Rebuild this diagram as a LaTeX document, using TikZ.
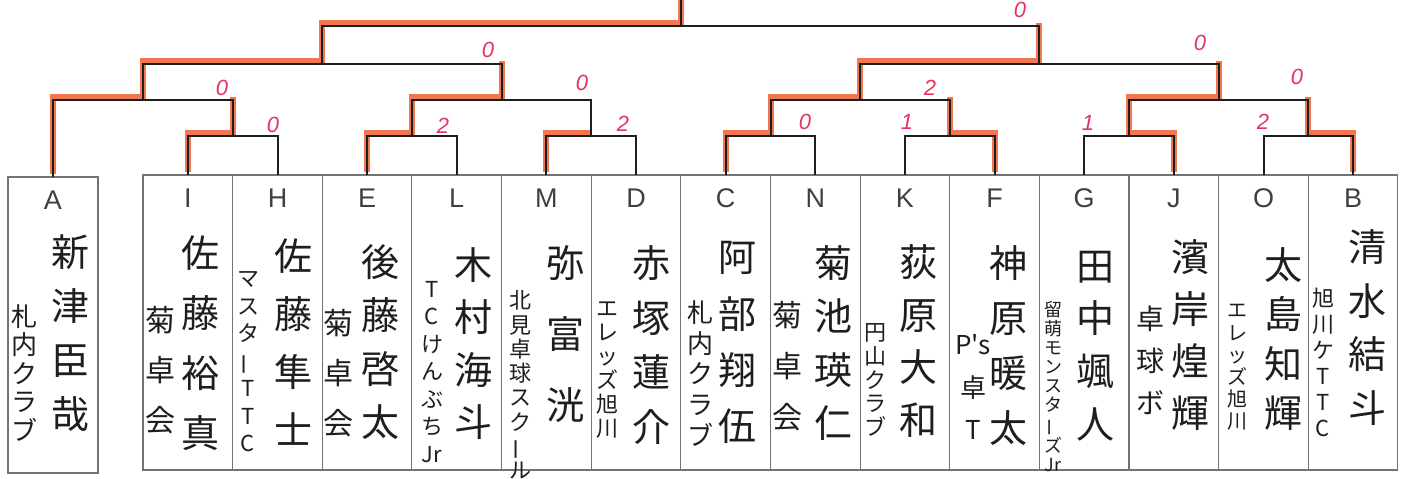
\documentclass[tikz,border=0pt]{standalone}
\usepackage{fontspec}
\newfontfamily\jp{Noto Sans CJK JP}
\newfontfamily\lat{Liberation Sans}
\definecolor{winred}{RGB}{238,96,50}
\definecolor{score}{RGB}{228,52,95}
\definecolor{boxline}{RGB}{115,115,115}
\definecolor{ink}{RGB}{30,30,30}
\newcommand\vbar{\rotatebox[origin=c]{90}{ー}}
\begin{document}
\begin{tikzpicture}[x=1pt,y=-1pt,
  box/.style={draw=boxline, line width=1.1pt, minimum width=89.64pt, minimum height=295pt, inner sep=0pt, outer sep=0pt},
  br/.style={draw=ink, line width=2pt},
  winpath/.style={draw=winred, line width=6pt, opacity=0.85, transform canvas={yshift=3pt}},
  letter/.style={font=\lat\fontsize{27}{27}\selectfont, text=ink!85, inner sep=0pt},
  namecol/.style={align=center, inner sep=0pt, text=ink, font=\jp\fontsize{38}{#1}\selectfont},
  clubcol/.style 2 args={align=center, inner sep=0pt, text=ink, font=\jp\fontsize{#1}{#2}\selectfont},
  sc/.style={text=score, font=\lat\itshape\fontsize{22}{22}\selectfont, inner sep=0pt},
]
\fill[white] (0,0) rectangle (1406,479);
\useasboundingbox (0,0) rectangle (1406,479);

% boxes
\node[box, minimum width=90pt, minimum height=296pt] (bA) at (53,325) {};
\node[box] (bI) at (187.8,322.5) {};
\node[box] (bH) at (277.5,322.5) {};
\node[box] (bE) at (367.1,322.5) {};
\node[box] (bL) at (456.7,322.5) {};
\node[box] (bM) at (546.4,322.5) {};
\node[box] (bD) at (636.0,322.5) {};
\node[box] (bC) at (725.7,322.5) {};
\node[box] (bN) at (815.3,322.5) {};
\node[box] (bK) at (904.9,322.5) {};
\node[box] (bF) at (994.6,322.5) {};
\node[box] (bG) at (1084.2,322.5) {};
\node[box] (bJ) at (1173.9,322.5) {};
\node[box] (bO) at (1263.5,322.5) {};
\node[box] (bB) at (1353.1,322.5) {};

% letters
\node[letter] (lA) at (53,200) {A};
\node[letter] (lI) at (187.8,198) {I};
\node[letter] (lH) at (277.5,198) {H};
\node[letter] (lE) at (367.1,198) {E};
\node[letter] (lL) at (456.7,198) {L};
\node[letter] (lM) at (546.4,198) {M};
\node[letter] (lD) at (636.0,198) {D};
\node[letter] (lC) at (725.7,198) {C};
\node[letter] (lN) at (815.3,198) {N};
\node[letter] (lK) at (904.9,198) {K};
\node[letter] (lF) at (994.6,198) {F};
\node[letter] (lG) at (1084.2,198) {G};
\node[letter] (lJ) at (1173.9,198) {J};
\node[letter] (lO) at (1263.5,198) {O};
\node[letter] (lB) at (1353.1,198) {B};

% names and clubs
\node[namecol=54] (nA) at (70,333) {新\\津\\臣\\哉};
\node[clubcol={26}{28.5}] (cA) at (25,373) {札\\内\\ク\\ラ\\ブ};
\node[namecol=60] (nI) at (200,343) {佐\\藤\\裕\\真};
\node[clubcol={30}{50}] (cI) at (160,370) {菊\\卓\\会};
\node[namecol=58] (nH) at (293,342) {佐\\藤\\隼\\士};
\node[clubcol={22}{27.5}] (cH) at (248,362) {マ\\ス\\タ\\\vbar\\T\\T\\C};
\node[namecol=53.3] (nE) at (380,342) {後\\藤\\啓\\太};
\node[clubcol={30}{50}] (cE) at (338,373) {菊\\卓\\会};
\node[namecol=52.3] (nL) at (473,343.5) {木\\村\\海\\斗};
\node[clubcol={22}{27.5}] (cL) at (432,372) {T\\C\\け\\ん\\ぶ\\ち\\Jr};
\node[namecol=71] (nM) at (565,334) {弥\\富\\洸};
\node[clubcol={22}{24.3}] (cM) at (520,385) {北\\見\\卓\\球\\ス\\ク\\\vbar\\ル};
\node[namecol=54.7] (nD) at (651,345) {赤\\塚\\蓮\\介};
\node[clubcol={22}{24}] (cD) at (607,370) {エ\\レ\\ッ\\ズ\\旭\\川};
\node[namecol=56.3] (nC) at (737,342.5) {阿\\部\\翔\\伍};
\node[clubcol={26}{30.75}] (cC) at (700,373.5) {札\\内\\ク\\ラ\\ブ};
\node[namecol=53.3] (nN) at (833,343) {菊\\池\\瑛\\仁};
\node[clubcol={30}{51}] (cN) at (787,366) {菊\\卓\\会};
\node[namecol=52.7] (nK) at (918,341) {荻\\原\\大\\和};
\node[clubcol={22}{23.75}] (cK) at (875,380) {円\\山\\ク\\ラ\\ブ};
\node[namecol=55] (nF) at (1008,345.5) {神\\原\\暖\\太};
\node[clubcol={26}{42.5}] (cF) at (973,387) {P's\\卓\\T};
\node[namecol=52.7] (nG) at (1095,346) {田\\中\\颯\\人};
\node[clubcol={18}{19.1}] (cG) at (1053,386.5) {留\\萌\\モ\\ン\\ス\\タ\\\vbar\\ズ\\Jr};
\node[namecol=52] (nJ) at (1190,335) {濱\\岸\\煌\\輝};
\node[clubcol={28}{42}] (cJ) at (1150,360) {卓\\球\\ボ};
\node[namecol=49.3] (nO) at (1283,339) {太\\島\\知\\輝};
\node[clubcol={20}{22.2}] (cO) at (1237,367.5) {エ\\レ\\ッ\\ズ\\旭\\川};
\node[namecol=53.7] (nB) at (1367,327.5) {清\\水\\結\\斗};
\node[clubcol={22}{26}] (cB) at (1323,362) {旭\\川\\ケ\\T\\T\\C};

% match points
\coordinate (r1) at (232.6,136);
\coordinate (r2) at (411.9,136);
\coordinate (r3) at (591.2,136);
\coordinate (r4) at (770.5,136);
\coordinate (r5) at (949.8,136);
\coordinate (r6) at (1129.0,136);
\coordinate (r7) at (1308.3,136);
\coordinate (q1) at (142.8,100);
\coordinate (q2) at (501.6,100);
\coordinate (q3) at (860.1,100);
\coordinate (q4) at (1218.7,100);
\coordinate (s1) at (322.2,64);
\coordinate (s2) at (1039.4,64);
\coordinate (f) at (680.8,26);
\coordinate (ftop) at (680.8,0);

% winner paths
\draw[winpath] (bA.north) |- (q1) |- (s1) |- (f) -- (ftop);
\draw[winpath] (bI.north) |- (r1) -- (r1 |- q1);
\draw[winpath] (bE.north) |- (r2) |- (q2) -- (q2 |- s1);
\draw[winpath] (bM.north) |- (r3);
\draw[winpath] (bC.north) |- (r4) |- (q3) |- (s2) -- (s2 |- f);
\draw[winpath] (bF.north) |- (r5) -- (r5 |- q3);
\draw[winpath] (bJ.north) |- (r6) |- (q4) -- (q4 |- s2);
\draw[winpath] (bB.north) |- (r7) -- (r7 |- q4);

% bracket
\draw[br] (bI.north) |- (r1) -| (bH.north);
\draw[br] (bE.north) |- (r2) -| (bL.north);
\draw[br] (bM.north) |- (r3) -| (bD.north);
\draw[br] (bC.north) |- (r4) -| (bN.north);
\draw[br] (bK.north) |- (r5) -| (bF.north);
\draw[br] (bG.north) |- (r6) -| (bJ.north);
\draw[br] (bO.north) |- (r7) -| (bB.north);
\draw[br] (bA.north) |- (q1) -| (r1);
\draw[br] (r2) |- (q2) -| (r3);
\draw[br] (r4) |- (q3) -| (r5);
\draw[br] (r6) |- (q4) -| (r7);
\draw[br] (q1) |- (s1) -| (q2);
\draw[br] (q3) |- (s2) -| (q4);
\draw[br] (s1) |- (f) -| (s2);
\draw[br] (f) -- (ftop);

% scores
\node[sc] (tf) at (1020,10) {0};
\node[sc] (ts1) at (488,50) {0};
\node[sc] (ts2) at (1200,43) {0};
\node[sc] (tq1) at (222,88) {0};
\node[sc] (tq2) at (582,83) {0};
\node[sc] (tq3) at (930,88) {2};
\node[sc] (tq4) at (1297,77) {0};
\node[sc] (tr1) at (273,125) {0};
\node[sc] (tr2) at (443,126) {2};
\node[sc] (tr3) at (623,124) {2};
\node[sc] (tr4) at (805,122) {0};
\node[sc] (tr5) at (907,122) {1};
\node[sc] (tr6) at (1088,123) {1};
\node[sc] (tr7) at (1263,122) {2};
\end{tikzpicture}
\end{document}
